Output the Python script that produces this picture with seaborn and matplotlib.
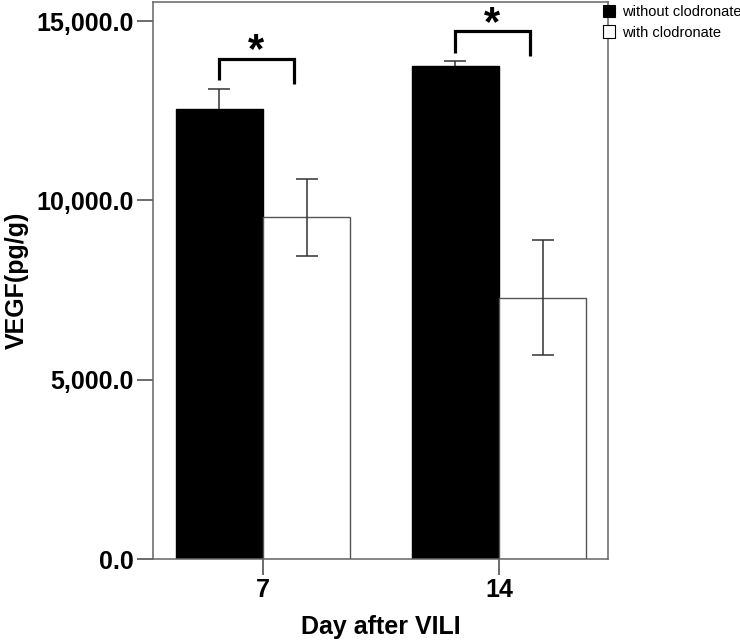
import numpy as np
import pandas as pd
import matplotlib
matplotlib.use("Agg")
import matplotlib.pyplot as plt
import seaborn as sns
from matplotlib.ticker import StrMethodFormatter
from matplotlib.patches import Patch

# ---- data ----
days = ["7", "14"]
groups = ["without clodronate", "with clodronate"]
without_vals = [12550, 13750]
without_err = [560, 130]
with_vals = [9530, 7290]
with_err = [1070, 1600]
y_ticks = [0, 5000, 10000, 15000]

df = pd.DataFrame({
    "day": days * 2,
    "group": [groups[0]] * 2 + [groups[1]] * 2,
    "vegf": without_vals + with_vals,
})

sns.set_style("white")
plt.rcParams["font.family"] = ["Liberation Sans", "DejaVu Sans"]
plt.rcParams["text.color"] = "black"
plt.rcParams["axes.labelcolor"] = "black"

fig = plt.figure(figsize=(7.4, 6.43), dpi=100)
ax = fig.add_axes([0.2064, 0.1306, 0.6153, 0.8663])

palette = {groups[0]: "black", groups[1]: "white"}
sns.barplot(data=df, x="day", y="vegf", hue="group", order=days, hue_order=groups,
            palette=palette, width=0.741, edgecolor="#555555", linewidth=1.0,
            errorbar=None, ax=ax, legend=False, zorder=2)

errs = [without_err, with_err]
for ci, (cont, e) in enumerate(zip(ax.containers, errs)):
    xs = [b.get_x() + b.get_width() / 2 for b in cont]
    ys = [b.get_height() for b in cont]
    if ci == 0:
        for b in cont:
            b.set_edgecolor("black")
    # error bars of black bars sit behind them (lower half hidden, as in the original)
    ax.errorbar(xs, ys, yerr=e, fmt="none", ecolor="#333333", elinewidth=1.1,
                capsize=7.7, capthick=1.1, zorder=1.5 if ci == 0 else 3)

# significance brackets (relative to the black bars)
black = ax.containers[0]
for b, e in zip(black, without_err):
    xc = b.get_x() + b.get_width()  # group center
    top = b.get_height() + e
    xl = xc - 0.185
    xr = xc + 0.133
    base_l = top + 240
    peak = base_l + 600
    base_r = base_l - 100
    ax.plot([xl, xl, xr, xr], [base_l, peak, peak, base_r], color="black",
            lw=2.3, solid_joinstyle="miter", solid_capstyle="butt", zorder=4, clip_on=False)
    ax.text(xc - 0.03, peak + 200, "*", ha="center", va="center", fontsize=30,
            fontweight="bold", color="black", zorder=4)

ax.set_xlim(-0.467, 1.462)
ax.set_ylim(0, 15530)
ax.set_yticks(y_ticks)
ax.yaxis.set_major_formatter(StrMethodFormatter("{x:,.1f}"))

for s in ax.spines.values():
    s.set_visible(True)
    s.set_color("#666666")
    s.set_linewidth(1.1)

ax.tick_params(axis="both", which="major", direction="out", length=11.5, width=1.1,
               color="#444444", labelsize=18, pad=2.5, left=True, bottom=True,
               labelcolor="black")
for lab in ax.get_xticklabels() + ax.get_yticklabels():
    lab.set_fontweight("bold")

ax.set_xlabel("Day after VILI", fontsize=18, fontweight="bold", labelpad=9, color="black")
ax.set_ylabel("VEGF(pg/g)", fontsize=18, fontweight="bold", labelpad=5, color="black")

handles = [Patch(facecolor=palette[g], edgecolor="black", linewidth=0.8) for g in groups]
leg = ax.legend(handles, groups, loc="upper left", bbox_to_anchor=(0.989, 0.995),
                frameon=False, fontsize=10.5, handlelength=0.82, handleheight=0.9,
                handletextpad=0.45, labelspacing=0.45, borderpad=0, borderaxespad=0,
                labelcolor="black")

fig.savefig("out.png", dpi=100)
